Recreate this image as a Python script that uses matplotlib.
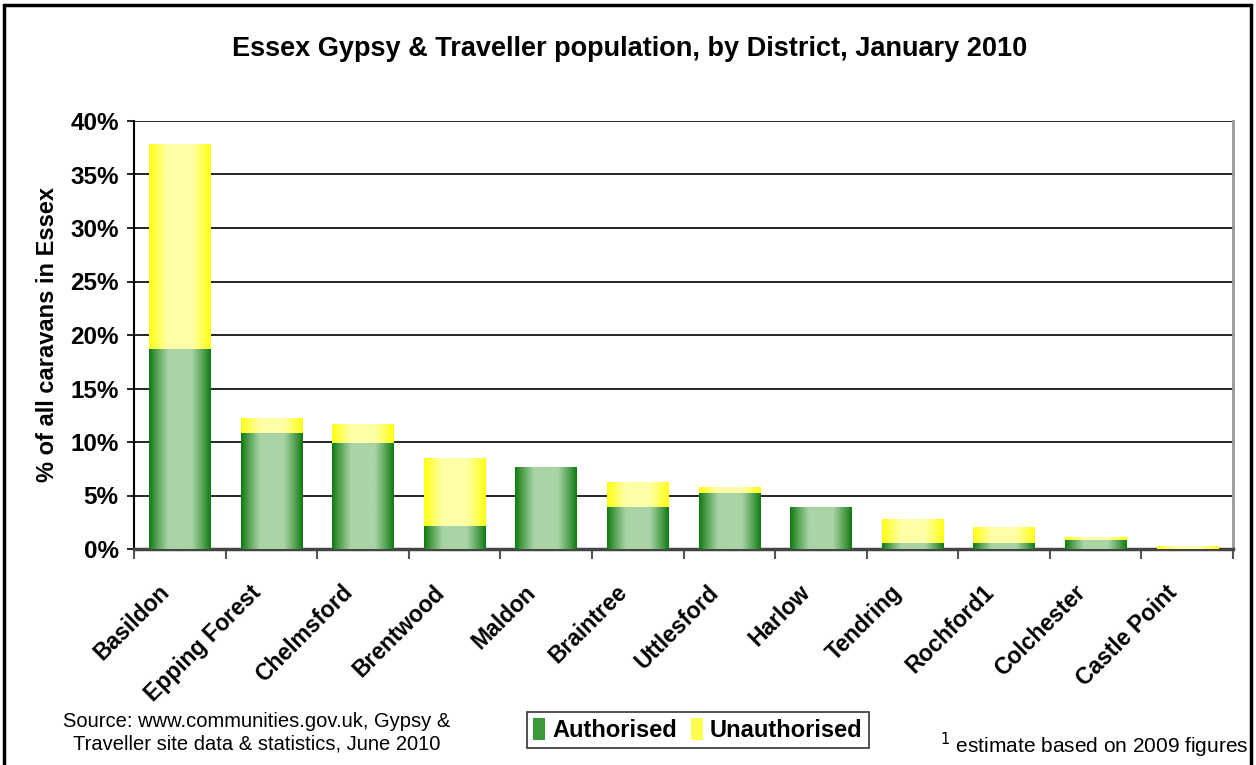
import matplotlib
matplotlib.use("Agg")
import matplotlib.pyplot as plt
import numpy as np
from matplotlib.patches import Rectangle, Patch
from matplotlib.transforms import ScaledTranslation

plt.rcParams['font.family'] = ['Liberation Sans', 'DejaVu Sans']

districts = ["Basildon", "Epping Forest", "Chelmsford", "Brentwood", "Maldon", "Braintree",
             "Uttlesford", "Harlow", "Tendring", "Rochford1", "Colchester", "Castle Point"]
authorised = [18.7, 10.8, 9.9, 2.15, 7.7, 3.9, 5.25, 3.9, 0.6, 0.6, 0.85, 0.0]
unauthorised = [19.15, 1.4, 1.8, 6.35, 0.0, 2.4, 0.55, 0.0, 2.2, 1.45, 0.25, 0.25]
yticks = [0, 5, 10, 15, 20, 25, 30, 35, 40]

fig = plt.figure(figsize=(12.56, 7.65), dpi=100)
ax = fig.add_axes([134/1256, 1-549/765, (1233-134)/1256, (549-121)/765])

x = np.arange(len(districts))
w = 0.67
b1 = ax.bar(x, authorised, w, color='#1a7f1a', zorder=3)
b2 = ax.bar(x, unauthorised, w, bottom=authorised, color='#ffff20', zorder=3)

def grad(edge, center):
    t = np.linspace(-1, 1, 200)
    f = np.clip(1 - np.abs(t) ** 1.3, 0, 1)
    f = np.clip(f * 1.4, 0, 1)
    e = np.array(matplotlib.colors.to_rgb(edge))
    c = np.array(matplotlib.colors.to_rgb(center))
    img = e[None, :] * (1 - f[:, None]) + c[None, :] * f[:, None]
    return img[None, :, :]

g_green = grad('#0f7a0f', '#a9d4a6')
g_yellow = grad('#ffff10', '#ffffa8')
for bars, g in ((b1, g_green), (b2, g_yellow)):
    for p in bars:
        if p.get_height() <= 0:
            continue
        x0, y0 = p.get_x(), p.get_y()
        im = ax.imshow(g, extent=(x0, x0 + p.get_width(), y0, y0 + p.get_height()),
                       aspect='auto', zorder=4, interpolation='bilinear')
        im.set_clip_path(p)

ax.set_xlim(-0.5, len(districts) - 0.5)
ax.set_ylim(0, 40)
ax.set_yticks(yticks)
ax.set_yticklabels([f"{v}%" for v in yticks], fontsize=17.5, fontweight='bold')
ax.yaxis.grid(True, color='black', linewidth=1.2, zorder=0)
ax.set_axisbelow(True)

ax.set_xticks(x)
ax.set_xticklabels(districts, rotation=45, ha='right', rotation_mode='anchor',
                   fontsize=16.5, fontweight='bold')
ax.tick_params(axis='x', length=0, pad=12)
offset = ScaledTranslation(-22/100, -15/100, fig.dpi_scale_trans)
for lab in ax.get_xticklabels():
    lab.set_transform(lab.get_transform() + offset)
ax.set_xticks(np.arange(-0.5, len(districts), 1.0), minor=True)
ax.tick_params(axis='x', which='minor', length=7, width=1.5, color='#555555', direction='out')
ax.tick_params(axis='y', length=5, width=1.2, direction='out', pad=6)

ax.spines['top'].set_visible(False)
ax.spines['right'].set_color('#999999')
ax.spines['right'].set_linewidth(2)
ax.spines['left'].set_linewidth(1.5)
ax.spines['bottom'].set_color('#444444')
ax.spines['bottom'].set_linewidth(2.5)

ax.set_ylabel("% of all caravans in Essex", fontsize=17, fontweight='bold', labelpad=8)

fig.text(630/1256, 1-49/765, "Essex Gypsy & Traveller population, by District, January 2010",
         ha='center', va='center', fontsize=19.5, fontweight='bold')

fig.text(257/1256, 1-733/765, "Source: www.communities.gov.uk, Gypsy &\nTraveller site data & statistics, June 2010",
         ha='center', va='center', fontsize=14.5, linespacing=1.25)
fig.text(1248/1256, 1-745/765, r"$^{1}$ estimate based on 2009 figures",
         ha='right', va='center', fontsize=15)

handles = [Patch(facecolor='#3a9a3a', edgecolor='none'), Patch(facecolor='#ffff50', edgecolor='none')]
leg = fig.legend(handles, ['Authorised', 'Unauthorised'], loc='center',
                 bbox_to_anchor=(698/1256, 1-730/765), ncol=2, frameon=True,
                 prop={'weight': 'bold', 'size': 17}, handlelength=0.5, handleheight=1.1,
                 handletextpad=0.3, columnspacing=0.6, borderpad=0.25, fancybox=False)
leg.get_frame().set_edgecolor('black')
leg.get_frame().set_linewidth(1.2)

fig.patches.append(Rectangle((4/1256, -0.05), (1251-4)/1256, 1.05 - 5/765, transform=fig.transFigure,
                             fill=False, edgecolor='black', linewidth=2.5))

fig.savefig("out.png", dpi=100)
